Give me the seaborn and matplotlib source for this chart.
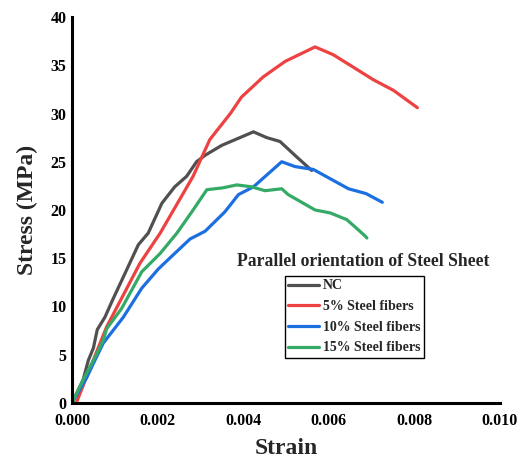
import matplotlib
matplotlib.use("Agg")
import matplotlib.pyplot as plt
from matplotlib.lines import Line2D
from matplotlib.ticker import FormatStrFormatter
import pandas as pd
import seaborn as sns

# Stress-strain curves, parallel orientation of steel sheet
nc_strain = [0.0, 0.00026, 0.00038, 0.0005, 0.00059, 0.00077, 0.00093, 0.00155, 0.00178,
             0.0021, 0.0024, 0.00268, 0.00291, 0.00312, 0.0035, 0.00424, 0.00455, 0.00486,
             0.00525, 0.0056]
nc_stress = [0.0, 2.4, 4.4, 5.7, 7.6, 8.9, 10.5, 16.4, 17.6,
             20.7, 22.4, 23.5, 25.0, 25.7, 26.7, 28.1, 27.5, 27.1,
             25.5, 24.1]

sf5_strain = [0.0001, 0.00034, 0.00081, 0.00159, 0.00206, 0.00283, 0.00322, 0.0037, 0.00396,
              0.00447, 0.00498, 0.00568, 0.0061, 0.0065, 0.00704, 0.00751, 0.00807]
sf5_stress = [0.0, 2.7, 7.9, 14.5, 17.6, 23.5, 27.3, 30.0, 31.7,
              33.8, 35.4, 36.9, 36.1, 35.0, 33.5, 32.4, 30.6]

sf10_strain = [0.0, 0.00034, 0.0005, 0.00073, 0.0012, 0.00163, 0.00202, 0.0024, 0.00276,
               0.00311, 0.00357, 0.00389, 0.00424, 0.0049, 0.00521, 0.00564, 0.00646,
               0.00687, 0.00725]
sf10_stress = [0.0, 2.6, 4.1, 6.2, 8.9, 11.9, 13.9, 15.5, 17.0,
               17.8, 19.8, 21.6, 22.4, 25.0, 24.5, 24.2, 22.2,
               21.7, 20.8]

sf15_strain = [0.0, 0.00026, 0.00058, 0.00073, 0.00081, 0.00116, 0.00163, 0.00206, 0.00245,
               0.00283, 0.00315, 0.00353, 0.00385, 0.0042, 0.00451, 0.0049, 0.00505,
               0.00568, 0.00603, 0.00642, 0.00665, 0.00685, 0.00689]
sf15_stress = [0.0, 2.4, 5.1, 6.5, 7.7, 9.8, 13.6, 15.5, 17.6,
               20.0, 22.1, 22.3, 22.6, 22.4, 22.0, 22.2, 21.6,
               20.0, 19.7, 19.0, 18.1, 17.3, 17.1]

series_names = ["NC", "5% Steel fibers", "10% Steel fibers", "15% Steel fibers"]
series_colors = ["#505050", "#ee4242", "#1c6fe0", "#35aa66"]
x_ticks = [0.000, 0.002, 0.004, 0.006, 0.008, 0.010]
y_ticks = [0, 5, 10, 15, 20, 25, 30, 35, 40]

frames = []
for name, xs, ys in zip(series_names,
                        [nc_strain, sf5_strain, sf10_strain, sf15_strain],
                        [nc_stress, sf5_stress, sf10_stress, sf15_stress]):
    frames.append(pd.DataFrame({"Strain": xs, "Stress": ys, "Series": name}))
df = pd.concat(frames, ignore_index=True)

sns.set_style("white")
plt.rcParams["font.family"] = ["Liberation Serif", "DejaVu Serif"]
plt.rcParams["font.weight"] = "bold"

fig = plt.figure(figsize=(5.27, 4.68), dpi=100)
ax = fig.add_axes([72 / 527, 1 - 403 / 468, 428 / 527, 386 / 468])

palette = dict(zip(series_names, series_colors))
sns.lineplot(data=df, x="Strain", y="Stress", hue="Series", hue_order=series_names,
             palette=palette, sort=False, estimator=None, linewidth=2.3,
             legend=False, ax=ax)

ax.set_xlim(0, 0.010)
ax.set_ylim(0, 40)
ax.set_xticks(x_ticks)
ax.set_yticks(y_ticks)
ax.xaxis.set_major_formatter(FormatStrFormatter("%.3f"))

for side in ["top", "right"]:
    ax.spines[side].set_visible(False)
for side in ["left", "bottom"]:
    ax.spines[side].set_linewidth(2.2)
    ax.spines[side].set_color("black")

ax.tick_params(axis="both", direction="in", length=5, width=2.2, color="black",
               labelsize=11.5, labelcolor="black")
ax.tick_params(axis="x", pad=7)
ax.tick_params(axis="y", pad=4)
for lab in ax.get_xticklabels() + ax.get_yticklabels():
    lab.set_fontweight("bold")

ax.set_xlabel("Strain", fontsize=17, fontweight="bold", labelpad=7)
ax.set_ylabel("Stress (MPa)", fontsize=17, fontweight="bold", labelpad=9)

# Legend: title sits above the framed entries
fig.text(237 / 527, 1 - 262 / 468, "Parallel orientation of Steel Sheet",
         fontsize=12.7, fontweight="bold", ha="left", va="center")
handles = [Line2D([0], [0], color=c, lw=2.3) for c in series_colors]
leg = ax.legend(handles, series_names, loc="upper left",
                bbox_to_anchor=(285 / 527, 1 - 276 / 468), bbox_transform=fig.transFigure,
                prop={"family": ["Liberation Serif"], "weight": "bold", "size": 10},
                frameon=True, fancybox=False, framealpha=1, edgecolor="black",
                handlelength=2.2, handletextpad=0.3, borderpad=0.25, labelspacing=0.55,
                borderaxespad=0)
leg.get_frame().set_linewidth(1.0)

fig.savefig("out.png", dpi=100)
